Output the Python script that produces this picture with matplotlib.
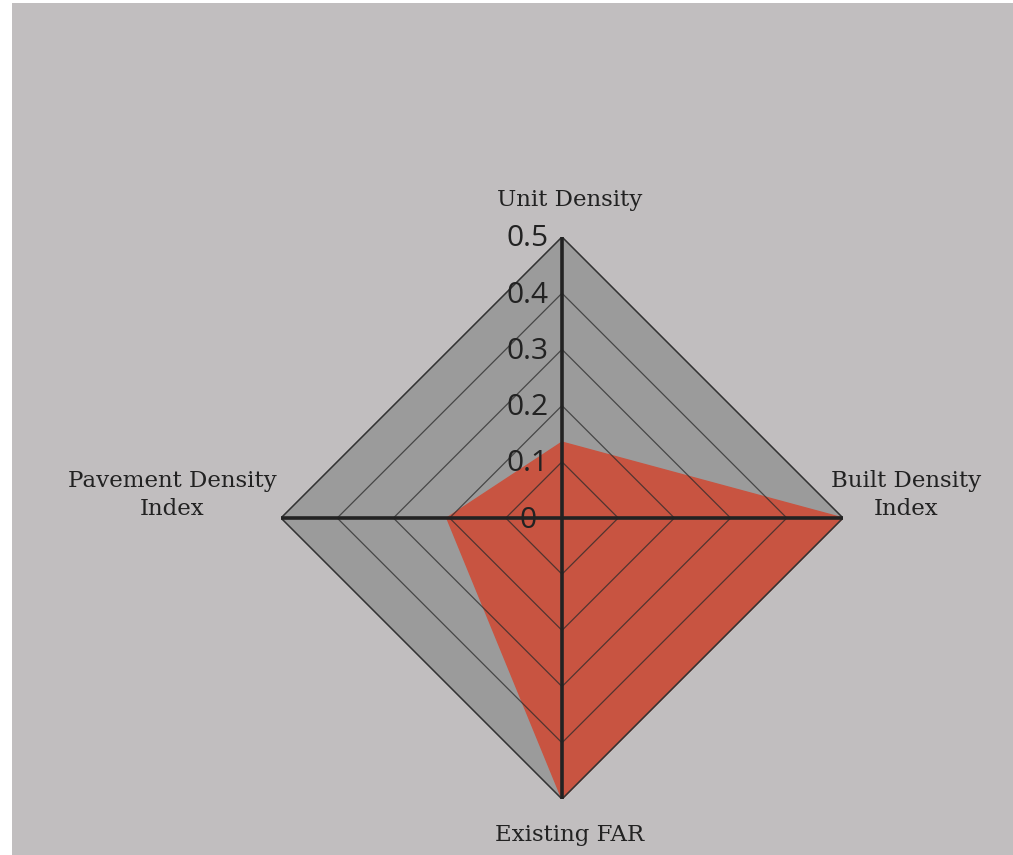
import numpy as np
import matplotlib
matplotlib.use('Agg')
import matplotlib.pyplot as plt
from matplotlib.patches import Rectangle

categories = ['Unit Density', 'Built Density\nIndex', 'Existing FAR', 'Pavement Density\nIndex']
values = [0.135, 0.5, 0.5, 0.205]
rings = [0.1, 0.2, 0.3, 0.4, 0.5]
tick_labels = ['0', '0.1', '0.2', '0.3', '0.4', '0.5']
tick_values = [0.0, 0.1, 0.2, 0.3, 0.4, 0.5]

bg = '#c1bebf'
grey = '#9b9b9b'
red = '#c85441'
ink = '#222222'

fig = plt.figure(figsize=(10.13, 8.55), dpi=100, facecolor='white')
fig.patches.append(Rectangle((12/1013, 0), 1, 852/855, transform=fig.transFigure,
                             facecolor=bg, edgecolor='none', zorder=-10))

ax = fig.add_axes([281/1013, 56/855, 562/1013, 562/855], projection='polar')
ax.set_zorder(1)
ax.set_theta_zero_location('N')
ax.set_theta_direction(-1)
ax.set_ylim(0, 0.5)
ax.set_axis_off()

theta = np.deg2rad([0, 90, 180, 270])
tc = np.append(theta, theta[0])

# outer grey diamond
ax.fill(tc, [0.5] * 5, color=grey, zorder=1)
ax.plot(tc, [0.5] * 5, color='#333333', lw=1.1, zorder=4)

# data polygon
vc = values + values[:1]
ax.fill(tc, vc, color=red, zorder=2)

# inner rings
for r in rings[:-1]:
    ax.plot(tc, [r] * 5, color='#2a2a2a', lw=0.9, alpha=0.75, zorder=3)

# spokes
for t in theta[:2]:
    ax.plot([t, t + np.pi], [0.5, 0.5], color=ink, lw=2.6, zorder=5)

# radial tick labels
for v, lab in zip(tick_values, tick_labels):
    ax.annotate(lab, xy=(0, v), xytext=(-34, -2), textcoords='offset pixels',
                ha='center', va='center', fontsize=21.5, family='Open Sans',
                color=ink, zorder=6, annotation_clip=False)

# category labels
offsets = [(8, 37), (63, 23), (8, -36), (-109, 23)]
for t, lab, off in zip(theta, categories, offsets):
    ax.annotate(lab, xy=(t, 0.5), xytext=off, textcoords='offset pixels',
                ha='center', va='center', fontsize=16.5, family='DejaVu Serif',
                color=ink, linespacing=1.4, annotation_clip=False)

plt.savefig('out.png', dpi=100, facecolor='white')
